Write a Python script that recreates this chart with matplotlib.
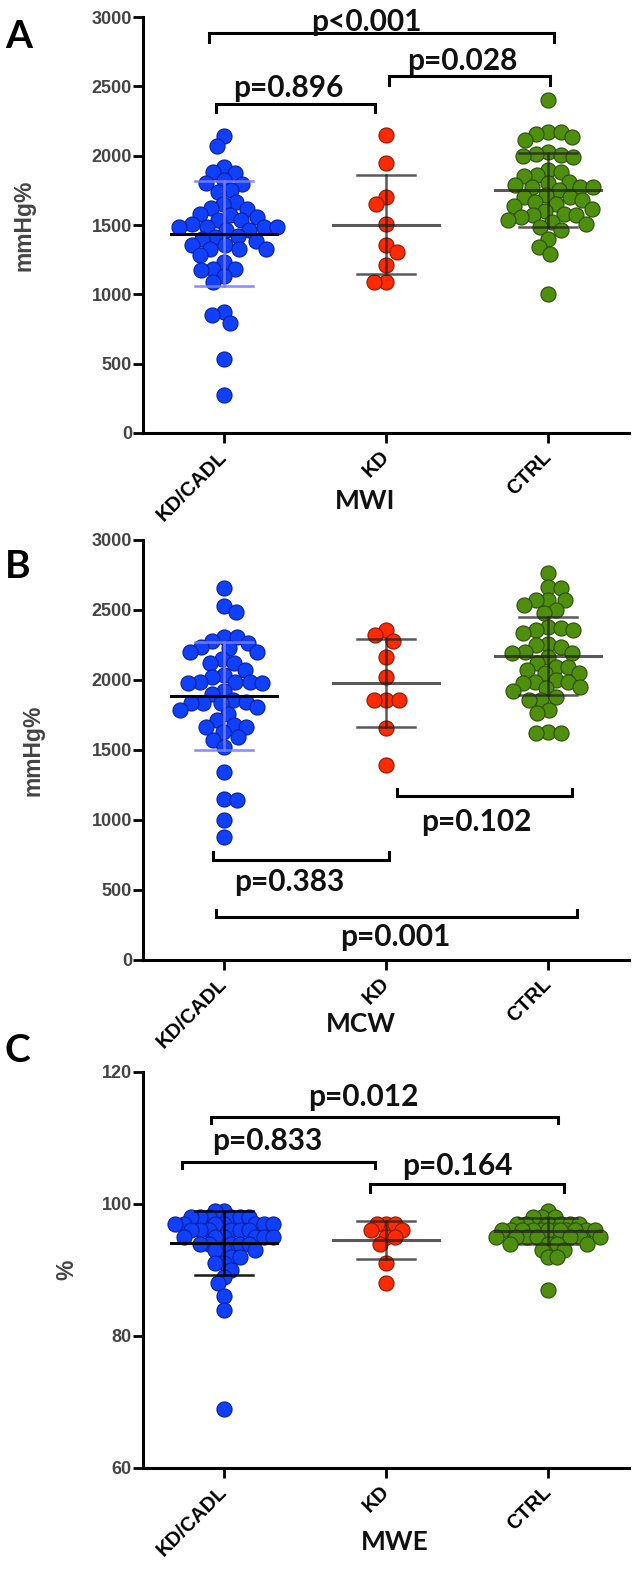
import numpy as np
import matplotlib.pyplot as plt

groups = ['KD/CADL', 'KD', 'CTRL']
colors = ['#1040ff', '#ff2a00', '#4e8f0e']
edges = ['#0a1f9a', '#8b1a00', '#2c4d0c']

# MWI (mmHg%)
mwi_kdcadl = [2140, 2067, 1918, 1882, 1875, 1827, 1803, 1798, 1750, 1738, 1666, 1649, 1625,
              1618, 1582, 1570, 1560, 1534, 1534, 1510, 1486, 1486, 1486, 1486, 1462, 1462,
              1420, 1414, 1402, 1385, 1353, 1353, 1330, 1330, 1330, 1281, 1233, 1185, 1185,
              1173, 1130, 1089, 873, 853, 793, 536, 272]
mwi_kd = [2147, 1950, 1702, 1649, 1510, 1353, 1305, 1209, 1089, 1089]
mwi_ctrl = [2399, 2171, 2171, 2154, 2135, 2111, 2027, 2015, 2003, 1995, 1990, 1894, 1882,
            1858, 1850, 1810, 1803, 1786, 1774, 1774, 1774, 1750, 1714, 1702, 1702, 1680,
            1666, 1654, 1640, 1618, 1600, 1582, 1570, 1570, 1558, 1534, 1522, 1510, 1486,
            1462, 1402, 1341, 1293, 1005]
mwi_mean = [1437, 1501, 1753]
mwi_sd = [378, 357, 265]

# MCW (mmHg%)
mcw_kdcadl = [2655, 2529, 2488, 2310, 2310, 2281, 2262, 2238, 2226, 2202, 2202, 2150, 2119,
              2119, 2071, 2036, 2024, 1988, 1988, 1988, 1976, 1976, 1920, 1900, 1857, 1845,
              1833, 1833, 1833, 1810, 1786, 1760, 1714, 1679, 1667, 1667, 1631, 1595, 1571,
              1524, 1345, 1148, 1143, 1000, 881]
mcw_kd = [2357, 2321, 2281, 2162, 2024, 1857, 1857, 1857, 1655, 1393]
mcw_ctrl = [2762, 2667, 2655, 2571, 2571, 2571, 2536, 2500, 2476, 2381, 2369, 2357, 2357,
            2333, 2260, 2250, 2238, 2202, 2190, 2190, 2167, 2120, 2095, 2095, 2071, 2048,
            2048, 2000, 1988, 1988, 1976, 1952, 1940, 1920, 1881, 1857, 1857, 1786, 1762,
            1631, 1619, 1619]
mcw_mean = [1886, 1976, 2171]
mcw_sd = [385, 314, 276]

# MWE (%)
mwe_kdcadl = [99, 99, 98, 98, 98, 98, 98, 98, 97, 97, 97, 97, 97, 97, 97, 96, 96, 96, 96, 96,
              96, 95, 95, 95, 95, 95, 95, 94, 94, 94, 94, 94, 93, 93, 93, 92, 92, 91, 91, 90,
              89, 88, 86, 84, 69]
mwe_kd = [97, 97, 97, 96, 96, 95, 95, 94, 91, 88]
mwe_ctrl = [99, 98, 98, 98, 97, 97, 97, 97, 97, 97, 96, 96, 96, 96, 96, 96, 96, 96, 96, 96,
            96, 96, 95, 95, 95, 95, 95, 95, 95, 94, 94, 94, 94, 93, 93, 92, 92, 87]
mwe_mean = [94.1, 94.5, 95.9]
mwe_sd = [4.8, 2.9, 2.0]

# p-values: (text, x0, x1, bracket y, tick y, text x, text baseline y)
pvals_a = [('p<0.001', -0.09, 2.04, 2885, 2820, 0.88, 2900),
           ('p=0.896', -0.05, 0.93, 2372, 2315, 0.40, 2423),
           ('p=0.028', 1.02, 2.01, 2574, 2510, 1.47, 2618)]
pvals_b = [('p=0.102', 1.07, 2.15, 1171, 1219, 1.56, 920),
           ('p=0.383', -0.07, 1.02, 714, 769, 0.40, 490),
           ('p=0.001', -0.05, 2.18, 310, 357, 1.06, 97)]
pvals_c = [('p=0.012', -0.08, 2.06, 113.15, 112.2, 0.86, 114.8),
           ('p=0.833', -0.26, 0.93, 106.4, 105.4, 0.27, 108.2),
           ('p=0.164', 0.90, 2.10, 103.0, 101.8, 1.44, 104.4)]

FIG_W, FIG_H = 637, 1577
AX_L, AX_R = 143, 629
PFONT = 'Lato'
TFONT = 'Liberation Sans'


def swarm(vals, px_y, diam, max_w):
    # simple beeswarm in pixel space, returns x offsets in pixels
    ys = np.asarray(vals, float) * px_y
    order = np.argsort(-ys)
    px, py = [], []
    offs = np.zeros(len(vals))
    for n, i in enumerate(order):
        sign = 1 if n % 2 == 0 else -1
        cand = [0.0]
        for k in np.arange(0.5, max_w + 0.01, 0.5):
            cand += [sign * k, -sign * k]
        best, best_d = 0.0, -1
        for c in cand:
            if px:
                d = np.min(np.hypot(np.array(px) - c, np.array(py) - ys[i]))
            else:
                d = np.inf
            if d >= diam:
                best = c
                break
            if d > best_d:
                best_d, best = d, c
        offs[i] = best
        px.append(best)
        py.append(ys[i])
    return offs


def panel(top, bottom, data, means, sds, ylim, yticks, ylabel, ylab_x, xlabel, xlab_pos,
          letter, letter_y, pvals, diam, max_w, sd_blue):
    ax = fig.add_axes([AX_L / FIG_W, 1 - bottom / FIG_H, (AX_R - AX_L) / FIG_W,
                       (bottom - top) / FIG_H])
    px_x = (AX_R - AX_L) / 3.0
    px_y = (bottom - top) / (ylim[1] - ylim[0])
    for g, vals in enumerate(data):
        offs = swarm(np.asarray(vals) - ylim[0], px_y, diam, max_w)
        ax.scatter(g + offs / px_x, vals, s=118, color=colors[g], edgecolor=edges[g],
                   linewidth=0.8, zorder=2, clip_on=False)
        if g == 0:
            mc, ma = 'black', 1.0
            sc, sa = ('#7b7bff', 0.9) if sd_blue else ('black', 0.9)
        else:
            mc, ma, sc, sa = '#222222', 0.75, '#222222', 0.75
        m, s = means[g], sds[g]
        ax.plot([g - 0.33, g + 0.33], [m, m], color=mc, alpha=ma, lw=2.2, zorder=4)
        ax.plot([g, g], [m - s, m + s], color=sc, alpha=sa, lw=1.8, zorder=3)
        for yy in (m - s, m + s):
            ax.plot([g - 0.18, g + 0.18], [yy, yy], color=sc, alpha=sa, lw=1.8, zorder=3)

    for txt, x0, x1, yb, yt, tx, ty in pvals:
        ax.plot([x0, x0, x1, x1], [yt, yb, yb, yt], color='black', lw=2.2, clip_on=False,
                zorder=5, solid_joinstyle='miter')
        ax.text(tx, ty, txt, ha='center', va='baseline', fontsize=21.5, fontweight='bold',
                family=PFONT, color='#111111', zorder=6)

    ax.set_xlim(-0.5, 2.5)
    ax.set_ylim(*ylim)
    ax.set_yticks(yticks)
    ax.set_yticklabels([str(t) for t in yticks], family=TFONT, fontweight='bold')
    ax.set_xticks([0, 1, 2])
    ax.set_xticklabels(groups, rotation=45, ha='right', va='center', rotation_mode='anchor',
                       fontsize=14.5, fontweight='bold', family=TFONT)
    for sp in ('top', 'right'):
        ax.spines[sp].set_visible(False)
    for sp in ('left', 'bottom'):
        ax.spines[sp].set_linewidth(2.2)
    ax.tick_params(axis='y', length=7, width=2, labelsize=13, labelcolor='#444444', pad=1)
    ax.tick_params(axis='x', length=7, width=2, pad=8)
    ax.set_ylabel(ylabel, fontsize=16.5, fontweight='bold', color='#444444', family=TFONT)
    ax.yaxis.set_label_coords((ylab_x - AX_L) / (AX_R - AX_L), 0.5)
    ax.yaxis.label.set_va('center')
    ax.patch.set_alpha(0)

    fig.text(xlab_pos[0] / FIG_W, 1 - xlab_pos[1] / FIG_H, xlabel, ha='center', va='center',
             fontsize=19, fontweight='bold', family=PFONT, color='#111111')
    fig.text(5 / FIG_W, 1 - letter_y / FIG_H, letter, ha='left', va='center', fontsize=28,
             fontweight='bold', family=PFONT)
    return ax


fig = plt.figure(figsize=(FIG_W / 100, FIG_H / 100), dpi=100)

panel(17, 433, [mwi_kdcadl, mwi_kd, mwi_ctrl], mwi_mean, mwi_sd, (0, 3000),
      range(0, 3001, 500), 'mmHg%', 24, 'MWI', (365, 501), 'A', 37, pvals_a, 12.5, 60, True)
panel(540, 960, [mcw_kdcadl, mcw_kd, mcw_ctrl], mcw_mean, mcw_sd, (0, 3000),
      range(0, 3001, 500), 'mmHg%', 33, 'MCW', (361, 1024), 'B', 567, pvals_b, 12.5, 60, True)
panel(1072, 1468, [mwe_kdcadl, mwe_kd, mwe_ctrl], mwe_mean, mwe_sd, (60, 120),
      [60, 80, 100, 120], '%', 67, 'MWE', (395, 1542), 'C', 1050, pvals_c, 9, 52, False)

fig.savefig('out.png', dpi=100)
